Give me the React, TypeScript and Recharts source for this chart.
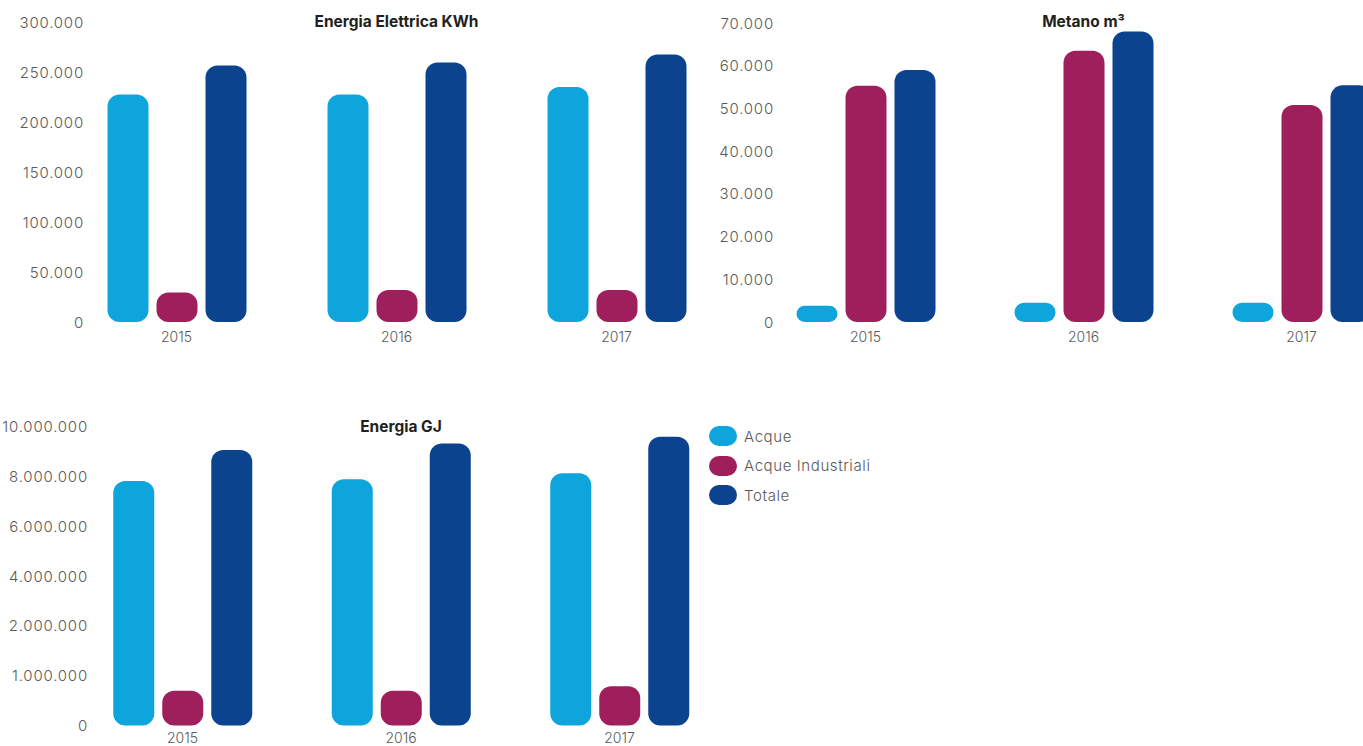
import { BarChart, Bar, XAxis, YAxis } from 'recharts'

const YEARS = ['2015', '2016', '2017']

const SERIES = [
  { key: 'acque', name: 'Acque', color: '#0ea5dc' },
  { key: 'industriali', name: 'Acque Industriali', color: '#9e1f5b' },
  { key: 'totale', name: 'Totale', color: '#0b438e' },
]

// Energia Elettrica, KWh
const KWH_ACQUE = [228000, 228000, 235500]
const KWH_INDUSTRIALI = [29500, 32000, 32000]
const KWH_TOTALE = [257000, 260000, 268000]
const KWH_TICKS = [0, 50000, 100000, 150000, 200000, 250000, 300000]

// Metano, m³
const MC_ACQUE = [3800, 4500, 4500]
const MC_INDUSTRIALI = [55300, 63500, 50800]
const MC_TOTALE = [59000, 68000, 55400]
const MC_TICKS = [0, 10000, 20000, 30000, 40000, 50000, 60000, 70000]

// Energia, GJ
const GJ_ACQUE = [8180000, 8240000, 8440000]
const GJ_INDUSTRIALI = [1160000, 1160000, 1310000]
const GJ_TOTALE = [9220000, 9440000, 9660000]
const GJ_MAX = 10000000
const GJ_TICK_LABELS = ['0', '1.000.000', '2.000.000', '4.000.000', '6.000.000', '8.000.000', '10.000.000']
// labels sit on evenly spaced gridpoints of the 0..GJ_MAX axis
const GJ_TICKS = GJ_TICK_LABELS.map((_, i) => (i * GJ_MAX) / (GJ_TICK_LABELS.length - 1))

const FONT = 'Inter, "Noto Sans", sans-serif'
const TEXT_GREY = '#595959'

const withDots = (v: number) =>
  String(Math.round(v)).replace(/\B(?=(\d{3})+(?!\d))/g, '.')

const buildRows = (a: number[], b: number[], c: number[]) =>
  YEARS.map((year, i) => ({ year, acque: a[i], industriali: b[i], totale: c[i] }))

interface PanelProps {
  title: string
  rows: ReturnType<typeof buildRows>
  ticks: number[]
  max: number
  tickLabel: (value: number, index: number) => string
  left: number
  top: number
  width: number
  height: number
  plotLeft: number
  plotRight: number
  plotTop: number
  plotBottom: number
  yLabelRight: number
  xLabelY: number
  titleY: number
}

function Panel(p: PanelProps) {
  const titleCenter = (p.plotLeft + p.plotRight) / 2
  return (
    <div style={{ position: 'absolute', left: p.left, top: p.top, width: p.width, height: p.height }}>
      <BarChart
        width={p.width}
        height={p.height}
        data={p.rows}
        barSize={41}
        barGap={8}
        margin={{ top: p.plotTop, right: p.width - p.plotRight, bottom: 0, left: 0 }}
      >
        <XAxis
          dataKey="year"
          axisLine={false}
          tickLine={false}
          height={p.height - p.plotBottom}
          interval={0}
          // eslint-disable-next-line @typescript-eslint/no-explicit-any
          tick={(t: any) => (
            <text
              x={t.x}
              y={p.xLabelY}
              textAnchor="middle"
              dominantBaseline="central"
              fill={TEXT_GREY}
              fontSize={14}
              fontWeight={300}
              fontFamily={FONT}
            >
              {t.payload.value}
            </text>
          )}
        />
        <YAxis
          type="number"
          domain={[0, p.max]}
          ticks={p.ticks}
          interval={0}
          axisLine={false}
          tickLine={false}
          width={p.plotLeft}
          // eslint-disable-next-line @typescript-eslint/no-explicit-any
          tick={(t: any) => (
            <text
              x={p.yLabelRight}
              y={t.y}
              textAnchor="end"
              dominantBaseline="central"
              fill={TEXT_GREY}
              fontSize={15}
              fontWeight={300}
              letterSpacing={0.8}
              fontFamily={FONT}
            >
              {p.tickLabel(t.payload.value, t.index)}
            </text>
          )}
        />
        {SERIES.map((s) => (
          <Bar
            key={s.key}
            dataKey={s.key}
            name={s.name}
            fill={s.color}
            radius={12}
            isAnimationActive={false}
          />
        ))}
      </BarChart>
      <div
        style={{
          position: 'absolute',
          left: titleCenter - 150,
          top: p.titleY - 10,
          width: 300,
          lineHeight: '20px',
          textAlign: 'center',
          fontFamily: FONT,
          fontWeight: 700,
          fontSize: 15.5,
          color: '#231f20',
        }}
      >
        {p.title}
      </div>
    </div>
  )
}

function SeriesLegend() {
  return (
    <div style={{ position: 'absolute', left: 709, top: 426, fontFamily: FONT }}>
      {SERIES.map((s) => (
        <div key={s.key} style={{ display: 'flex', alignItems: 'center', height: 20, marginBottom: 9.5 }}>
          <span
            style={{
              display: 'inline-block',
              width: 28,
              height: 20,
              borderRadius: 10,
              background: s.color,
              marginRight: 7,
            }}
          />
          <span style={{ fontSize: 15, fontWeight: 300, letterSpacing: 0.6, color: TEXT_GREY }}>{s.name}</span>
        </div>
      ))}
    </div>
  )
}

export default function App() {
  return (
    <div
      style={{
        position: 'absolute',
        left: 0,
        top: 0,
        width: 1363,
        height: 746,
        overflow: 'hidden',
        background: '#fff',
      }}
    >
      <Panel
        title="Energia Elettrica KWh"
        rows={buildRows(KWH_ACQUE, KWH_INDUSTRIALI, KWH_TOTALE)}
        ticks={KWH_TICKS}
        max={300000}
        tickLabel={(v) => withDots(v)}
        left={0}
        top={0}
        width={730}
        height={350}
        plotLeft={66.5}
        plotRight={726.5}
        plotTop={22.5}
        plotBottom={322}
        yLabelRight={84}
        xLabelY={336}
        titleY={22}
      />
      <Panel
        title="Metano m³"
        rows={buildRows(MC_ACQUE, MC_INDUSTRIALI, MC_TOTALE)}
        ticks={MC_TICKS}
        max={70000}
        tickLabel={(v) => withDots(v)}
        left={690}
        top={0}
        width={730}
        height={350}
        plotLeft={66.5}
        plotRight={720.5}
        plotTop={23}
        plotBottom={322}
        yLabelRight={84}
        xLabelY={336}
        titleY={22}
      />
      <Panel
        title="Energia GJ"
        rows={buildRows(GJ_ACQUE, GJ_INDUSTRIALI, GJ_TOTALE)}
        ticks={GJ_TICKS}
        max={GJ_MAX}
        tickLabel={(_, i) => GJ_TICK_LABELS[i]}
        left={0}
        top={400}
        width={740}
        height={380}
        plotLeft={73.25}
        plotRight={728.75}
        plotTop={26.7}
        plotBottom={325.5}
        yLabelRight={88}
        xLabelY={337.5}
        titleY={27}
      />
      <SeriesLegend />
    </div>
  )
}
